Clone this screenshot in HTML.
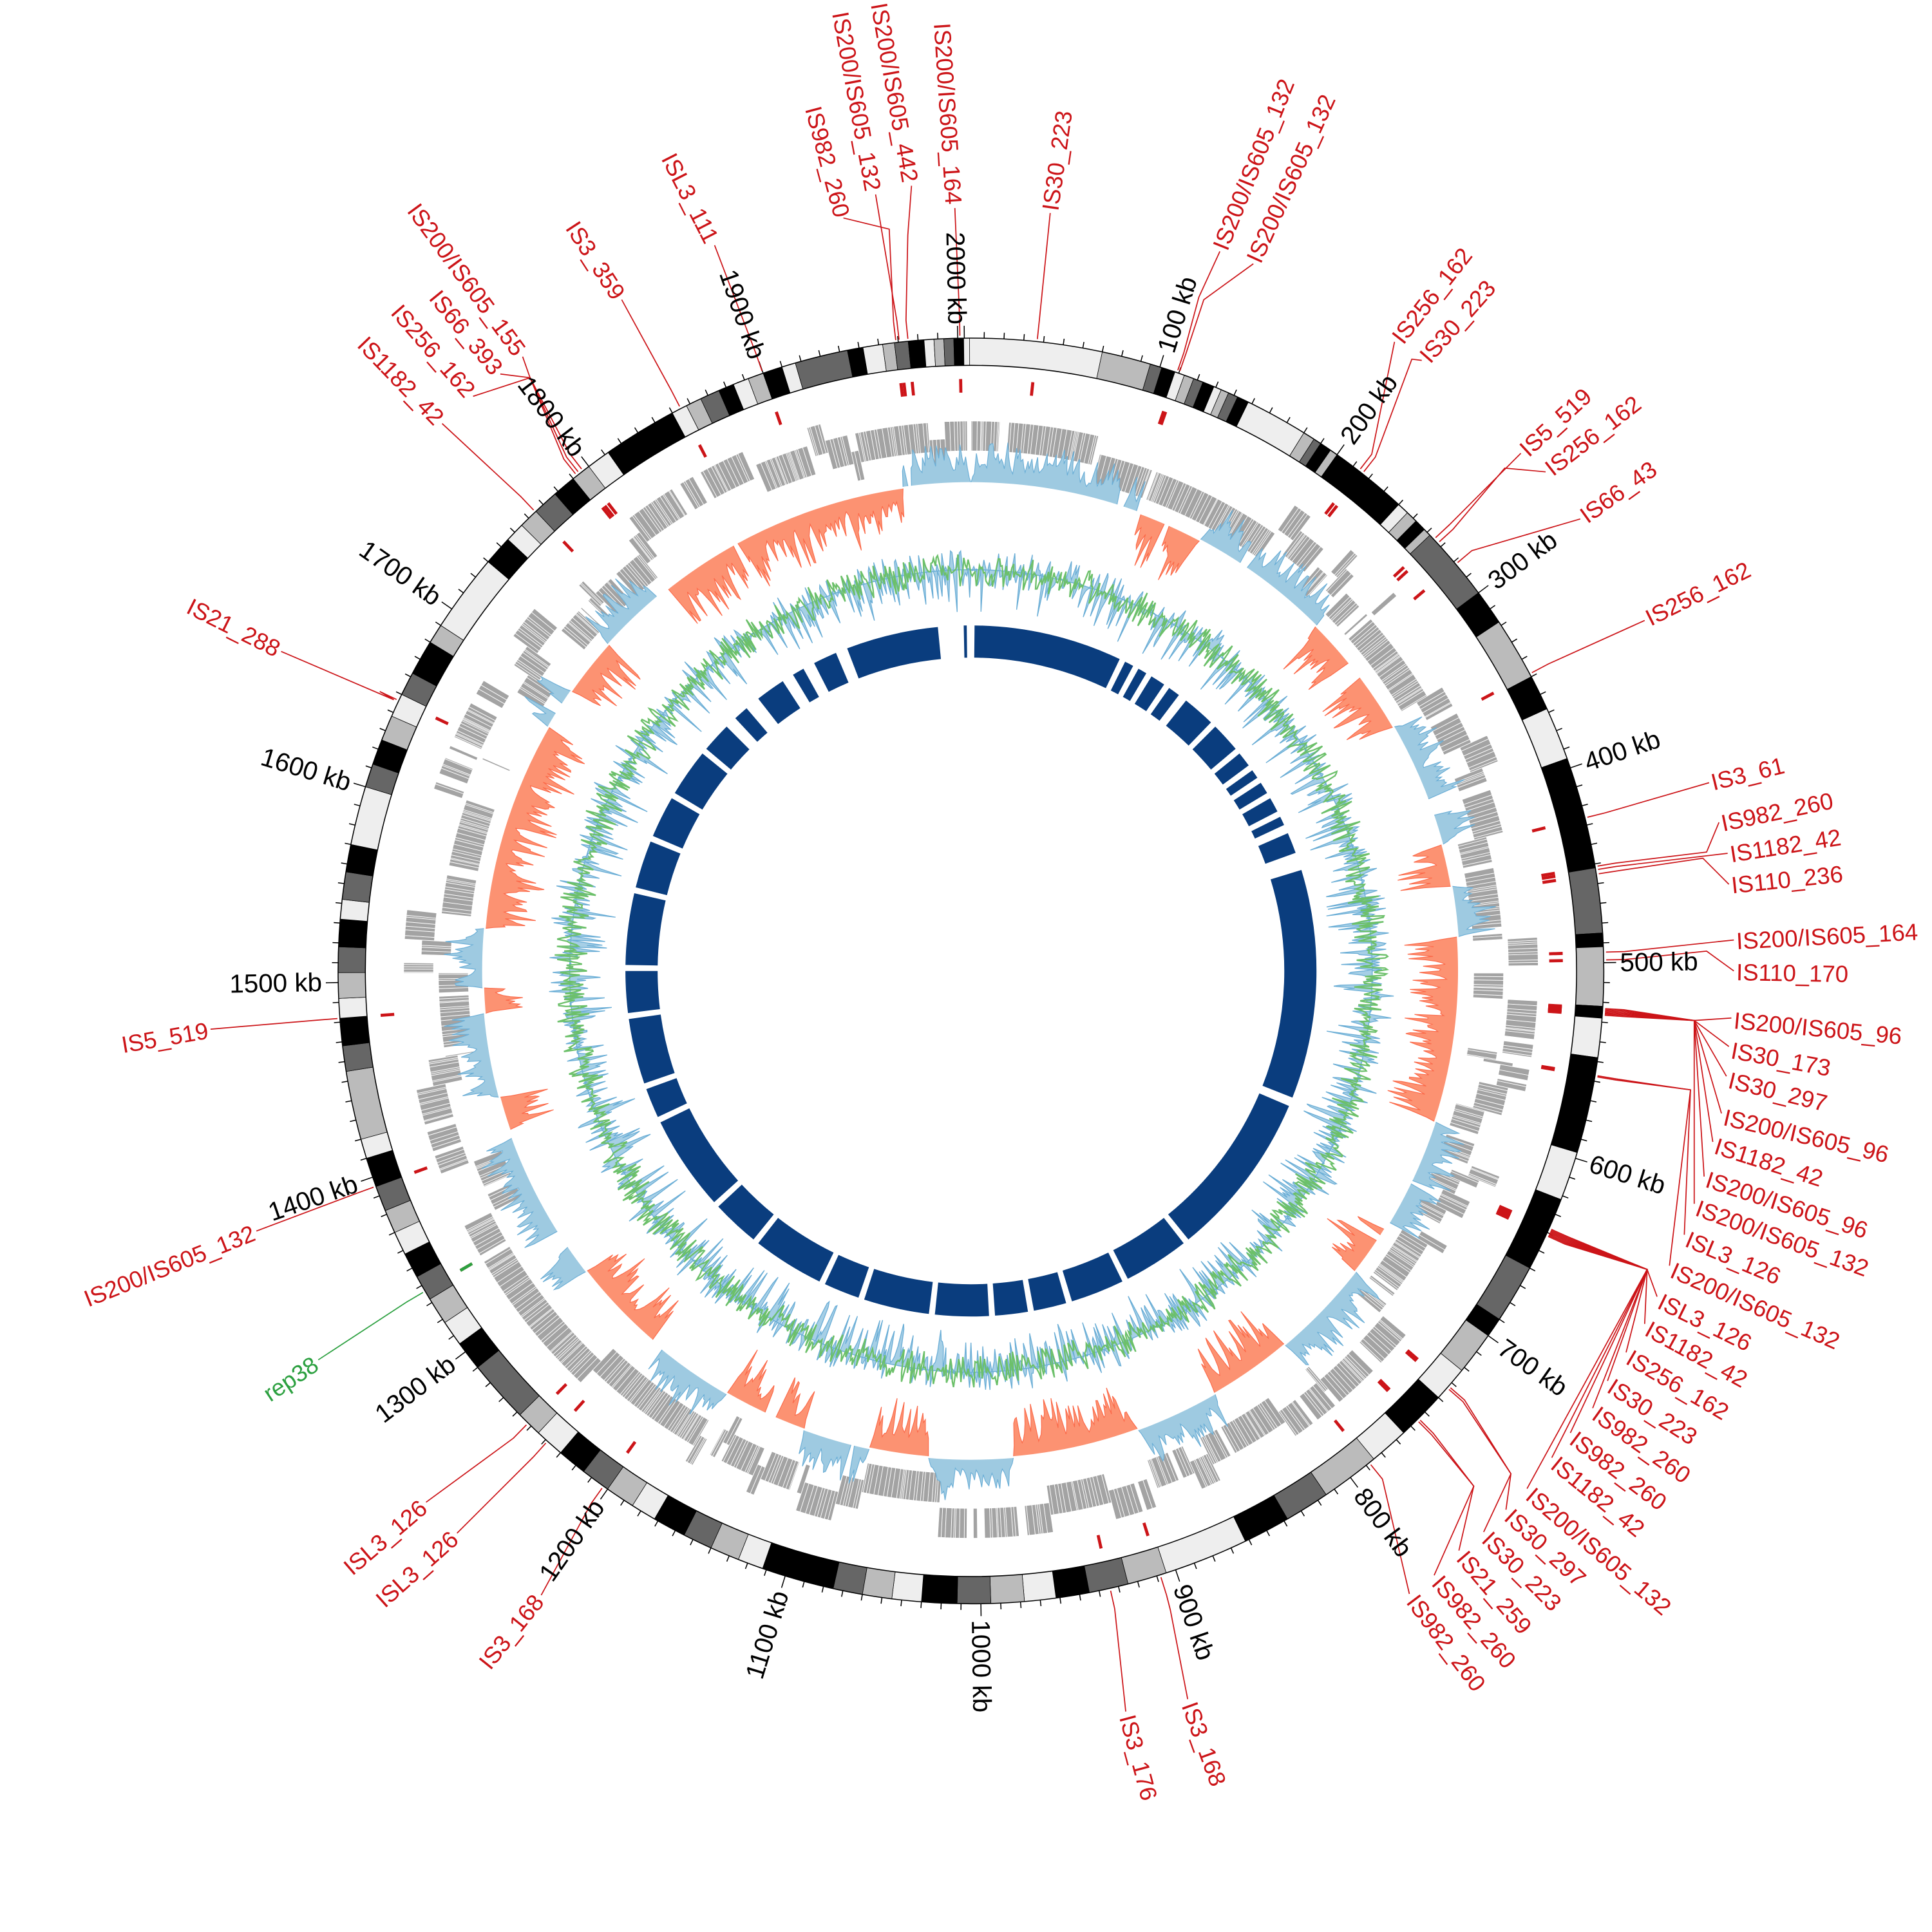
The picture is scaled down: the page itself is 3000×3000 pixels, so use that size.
<!DOCTYPE html>
<html><head><meta charset="utf-8">
<style>
html,body{margin:0;padding:0;background:#fff;}
svg{display:block;}
.l{font-family:"Liberation Sans",sans-serif;font-size:19px;fill:#cc1418;}
.g{font-family:"Liberation Sans",sans-serif;font-size:19px;fill:#2ca040;}
.k{font-family:"Liberation Sans",sans-serif;font-size:21px;fill:#000;}
</style></head>
<body>
<svg id="s" width="3000" height="3000" viewBox="0 0 1560 1560" xmlns="http://www.w3.org/2000/svg">
<rect width="1560" height="1560" fill="#fff"/>
<g id="bands"></g>
<g id="ticks" stroke="#000" stroke-width="0.8"></g>
<g id="genes"></g>
<g id="skew"></g>
<g id="gc"></g>
<g id="navy" fill="#0a3d7e"></g>
<g id="marks" fill="#cc1418"></g>
<g id="leaders" fill="none" stroke="#cc1418" stroke-width="0.9"></g>
<g dominant-baseline="central">
<text class="k" transform="translate(941,284) rotate(-72.6)">100 kb</text>
<text class="k" transform="translate(1087,356) rotate(-54.7)">200 kb</text>
<text class="k" transform="translate(1204,471) rotate(-36.7)">300 kb</text>
<text class="k" transform="translate(1280,616) rotate(-18.7)">400 kb</text>
<text class="k" transform="translate(1308,777) rotate(-0.75)">500 kb</text>
<text class="k" transform="translate(1284,939) rotate(17.2)">600 kb</text>
<text class="k" transform="translate(1212,1086) rotate(35.2)">700 kb</text>
<text class="k" transform="translate(1098,1204) rotate(53.2)">800 kb</text>
<text class="k" transform="translate(954,1280) rotate(71.1)">900 kb</text>
<text class="k" transform="translate(792,1308) rotate(89.1)">1000 kb</text>
<text class="k" text-anchor="end" transform="translate(630,1285) rotate(-72.9)">1100 kb</text>
<text class="k" text-anchor="end" transform="translate(483,1213) rotate(-55)">1200 kb</text>
<text class="k" text-anchor="end" transform="translate(365,1099) rotate(-37)">1300 kb</text>
<text class="k" text-anchor="end" transform="translate(288,955) rotate(-19)">1400 kb</text>
<text class="k" text-anchor="end" transform="translate(260,793) rotate(-1)">1500 kb</text>
<text class="k" text-anchor="end" transform="translate(283,632) rotate(16.9)">1600 kb</text>
<text class="k" text-anchor="end" transform="translate(354,484) rotate(34.9)">1700 kb</text>
<text class="k" text-anchor="end" transform="translate(468,366) rotate(52.9)">1800 kb</text>
<text class="k" text-anchor="end" transform="translate(612,289) rotate(70.8)">1900 kb</text>
<text class="k" text-anchor="end" transform="translate(773,262) rotate(88.8)">2000 kb</text>

<text class="l" transform="translate(848,170) rotate(-82)">IS30_223</text>
<text class="l" transform="translate(985,201) rotate(-68.2)">IS200/IS605_132</text>
<text class="l" transform="translate(1012,211) rotate(-65.5)">IS200/IS605_132</text>
<text class="l" transform="translate(910,1385) rotate(75)">IS3_176</text>
<text class="l" transform="translate(960,1375) rotate(70)">IS3_168</text>
<text class="l" transform="translate(1140,1290) rotate(53)">IS982_260</text>
<text class="l" transform="translate(1160,1275) rotate(49)">IS982_260</text>
<text class="l" transform="translate(1180,1255) rotate(49.4)">IS21_259</text>
<text class="l" transform="translate(1200,1240) rotate(45)">IS30_223</text>
<text class="l" transform="translate(1218,1222) rotate(43)">IS30_297</text>
<text class="l" transform="translate(1235,1205) rotate(40.5)">IS200/IS605_132</text>
<text class="l" transform="translate(1255,1180) rotate(39)">IS1182_42</text>
<text class="l" transform="translate(1270,1160) rotate(37)">IS982_260</text>
<text class="l" transform="translate(1288,1140) rotate(35.5)">IS982_260</text>
<text class="l" transform="translate(1300,1118) rotate(32.7)">IS30_223</text>
<text class="l" transform="translate(1315,1095) rotate(30.5)">IS256_162</text>
<text class="l" transform="translate(1330,1072) rotate(28.6)">IS1182_42</text>
<text class="l" transform="translate(1340,1050) rotate(26)">ISL3_126</text>
<text class="l" transform="translate(1350,1025) rotate(23.7)">IS200/IS605_132</text>
<text class="l" transform="translate(1362,1000) rotate(22.9)">ISL3_126</text>
<text class="l" transform="translate(1370,975) rotate(19.9)">IS200/IS605_132</text>
<text class="l" transform="translate(1378,952) rotate(18)">IS200/IS605_96</text>
<text class="l" transform="translate(1385,925) rotate(17.5)">IS1182_42</text>
<text class="l" transform="translate(1392,902) rotate(13)">IS200/IS605_96</text>
<text class="l" transform="translate(1396,872) rotate(13.7)">IS30_297</text>
<text class="l" transform="translate(1398,848) rotate(10.4)">IS30_173</text>
<text class="l" transform="translate(1400,824) rotate(5.4)">IS200/IS605_96</text>
<text class="l" transform="translate(1402,760) rotate(-3)">IS200/IS605_164</text>
<text class="l" transform="translate(1402,785) rotate(1)">IS110_170</text>
<text class="l" transform="translate(1398,715) rotate(-6)">IS110_236</text>
<text class="l" transform="translate(1397,690) rotate(-9)">IS1182_42</text>
<text class="l" transform="translate(1390,665) rotate(-11.8)">IS982_260</text>
<text class="l" transform="translate(1382,632) rotate(-13.8)">IS3_61</text>
<text class="l" transform="translate(1330,500) rotate(-26.6)">IS256_162</text>
<text class="l" transform="translate(1278,418) rotate(-35.6)">IS66_43</text>
<text class="l" transform="translate(1250,380) rotate(-37.8)">IS256_162</text>
<text class="l" transform="translate(1230,365) rotate(-42.6)">IS5_519</text>
<text class="l" transform="translate(1150,290) rotate(-48.5)">IS30_223</text>
<text class="l" transform="translate(1128,275) rotate(-52)">IS256_162</text>

<text class="l" text-anchor="end" transform="translate(770,165) rotate(86.3)">IS200/IS605_164</text>
<text class="l" text-anchor="end" transform="translate(735,147) rotate(80)">IS200/IS605_442</text>
<text class="l" text-anchor="end" transform="translate(705,154) rotate(79.5)">IS200/IS605_132</text>
<text class="l" text-anchor="end" transform="translate(680,175) rotate(75)">IS982_260</text>
<text class="l" text-anchor="end" transform="translate(575,195) rotate(63)">ISL3_111</text>
<text class="l" text-anchor="end" transform="translate(500,240) rotate(57)">IS3_359</text>
<text class="l" text-anchor="end" transform="translate(420,285) rotate(53.8)">IS200/IS605_155</text>
<text class="l" text-anchor="end" transform="translate(402,300) rotate(50.8)">IS66_393</text>
<text class="l" text-anchor="end" transform="translate(380,318) rotate(48.9)">IS256_162</text>
<text class="l" text-anchor="end" transform="translate(355,340) rotate(46)">IS1182_42</text>
<text class="l" text-anchor="end" transform="translate(225,525) rotate(26.6)">IS21_288</text>
<text class="l" text-anchor="end" transform="translate(168,832) rotate(-9.7)">IS5_519</text>
<text class="l" text-anchor="end" transform="translate(205,995) rotate(-21.8)">IS200/IS605_132</text>
<text class="g" text-anchor="end" transform="translate(255,1100) rotate(-33.7)">rep38</text>
<text class="l" text-anchor="end" transform="translate(342,1215) rotate(-40.6)">ISL3_126</text>
<text class="l" text-anchor="end" transform="translate(367,1240) rotate(-41.8)">ISL3_126</text>
<text class="l" text-anchor="end" transform="translate(435,1290) rotate(-51.3)">IS3_168</text>
</g>
</svg>
<script>
(function(){
var cx=784,cy=784;
function P(r,t){var a=t*Math.PI/180;return [(cx+r*Math.sin(a)).toFixed(2),(cy-r*Math.cos(a)).toFixed(2)];}
function ps(p){return p[0]+','+p[1];}
function kt(k){return k*0.1797-0.6;}
function sector(r1,r2,t1,t2){var lg=(t2-t1)>180?1:0;
 return 'M'+ps(P(r2,t1))+'A'+r2+','+r2+' 0 '+lg+' 1 '+ps(P(r2,t2))+'L'+ps(P(r1,t2))+'A'+r1+','+r1+' 0 '+lg+' 0 '+ps(P(r1,t1))+'Z';}
var s=12345;function rnd(){s=(s*1664525+1013904223)%4294967296;return s/4294967296;}
var L='#eeeeee',G='#bbbbbb',D='#666666',B='#000000';
var bands=[[0,70,L],[70,95,G],[95,101,D],[101,108,B],[108,113,L],[113,118,G],[118,123,D],[123,129,B],[129,133,L],[133,137,G],[137,142,D],[142,148,B],[148,180,L],[180,186,G],[186,190,D],[190,196,B],[196,200,G],[200,240,B],[240,246,L],[246,252,G],[252,258,B],[258,262,G],[262,300,D],[300,318,B],[318,350,G],[350,368,B],[368,395,L],[395,452,B],[452,485,D],[485,492,B],[492,522,G],[522,528,B],[528,548,L],[548,597,B],[597,622,L],[622,660,B],[660,690,D],[690,700,B],[700,722,G],[722,740,L],[740,765,B],[765,785,L],[785,815,G],[815,838,D],[838,862,B],[862,905,L],[905,925,G],[925,945,D],[945,962,B],[962,978,L],[978,995,G],[995,1012,D],[1012,1030,B],[1030,1045,L],[1045,1060,G],[1060,1075,D],[1075,1112,B],[1112,1125,L],[1125,1140,G],[1140,1155,D],[1155,1172,B],[1172,1185,L],[1185,1200,G],[1200,1215,D],[1215,1230,B],[1230,1245,L],[1245,1258,G],[1258,1290,D],[1290,1305,B],[1305,1318,L],[1318,1332,G],[1332,1345,D],[1345,1358,B],[1358,1370,L],[1370,1382,G],[1382,1395,D],[1395,1410,B],[1410,1420,L],[1420,1455,G],[1455,1468,D],[1468,1482,B],[1482,1492,L],[1492,1505,G],[1505,1518,D],[1518,1532,B],[1532,1542,L],[1542,1556,D],[1556,1570,B],[1570,1600,L],[1600,1612,D],[1612,1625,B],[1625,1638,G],[1638,1650,L],[1650,1662,D],[1662,1680,B],[1680,1690,G],[1690,1730,L],[1730,1745,B],[1745,1755,L],[1755,1765,G],[1765,1778,D],[1778,1790,B],[1790,1800,G],[1800,1812,L],[1812,1850,B],[1850,1858,L],[1858,1866,G],[1866,1876,D],[1876,1884,B],[1884,1892,L],[1892,1900,G],[1900,1910,B],[1910,1917,L],[1917,1944,D],[1944,1952,B],[1952,1962,L],[1962,1968,G],[1968,1975,D],[1975,1983,B],[1983,1988,L],[1988,1993,G],[1993,1998,D],[1998,2003,B],[2003,2006,L]];
var h='';
bands.forEach(function(b){h+='<path d="'+sector(489,511,kt(b[0]),kt(b[1]))+'" fill="'+b[2]+'" stroke="#000" stroke-width="0.4"/>';});
h+='<circle cx="'+cx+'" cy="'+cy+'" r="511" fill="none" stroke="#000" stroke-width="0.8"/><circle cx="'+cx+'" cy="'+cy+'" r="489" fill="none" stroke="#000" stroke-width="0.8"/>';
document.getElementById('bands').innerHTML=h;
h='';
for(var k=0;k<=2000;k+=10){var t=kt(k);var len=(k%100==0)?10:5;var a=P(511,t),b=P(511+len,t);h+='<line x1="'+a[0]+'" y1="'+a[1]+'" x2="'+b[0]+'" y2="'+b[1]+'"/>';}
document.getElementById('ticks').innerHTML=h;
h='';var t=0,row=0;
var rows=[[434,458],[406,430],[420,444]];
while(t<359.5){var w=0.08+rnd()*0.5;if(rnd()<0.07)row=(row+1+Math.floor(rnd()*2))%3;
 if(rnd()<0.04){t+=0.3+rnd()*0.8;continue;}
 var e=Math.min(t+w,359.6);var rr=rows[row];
 h+='<path d="'+sector(rr[0],rr[1],t,e)+'" fill="#a3a3a3" stroke="#fff" stroke-width="0.35"/>';t=e+0.02;}
document.getElementById('genes').innerHTML=h;
var regs=[[0,20,1],[20,28,-1],[28,45,1],[45,60,-1],[60,75,1],[75,80,-1],[80,86,1],[86,108,-1],[108,122,1],[122,128,-1],[128,140,1],[140,150,-1],[150,160,1],[160,175,-1],[175,185,1],[185,192,-1],[192,200,1],[200,210,-1],[210,220,1],[220,232,-1],[232,250,1],[250,255,-1],[255,265,1],[265,268,-1],[268,275,1],[275,300,-1],[300,305,1],[305,312,-1],[312,320,1],[320,352,-1],[352,360,1]];
function regAt(th){for(var i=0;i<regs.length;i++){if(th>=regs[i][0]&&th<regs[i][1])return regs[i];}return regs[0];}
var N=1800,base=394,pos=[],neg=[],spk=0,gap=0;
for(var i=0;i<N;i++){var th=i*360/N;var rg=regAt(th);var env=Math.max(0,Math.min(1,(th-rg[0])/0.5,(rg[1]-th)/0.5));
 spk=Math.max(Math.pow(rnd(),1.8),spk*0.6);
 if(gap>0){gap--;env=0;}else if(rnd()<0.01){gap=3+Math.floor(rnd()*10);}
 var v=rg[2]*(rg[2]>0?34:44)*(0.15+0.85*spk)*env;
 pos.push(base+Math.max(v,0));neg.push(base+Math.min(v,0));}
function ringPath(arr,b){var d='M';for(var i=0;i<arr.length;i++){d+=(i?'L':'')+ps(P(arr[i],i*360/arr.length));}d+='Z M';
 for(var i=arr.length;i>=0;i--){d+=(i<arr.length?'L':'')+ps(P(b,i*360/arr.length));}return d+'Z';}
h='<path d="'+ringPath(pos,base)+'" fill="#9ecae1" stroke="#6baed6" stroke-width="0.6" fill-rule="evenodd"/>';
h+='<path d="'+ringPath(neg,base)+'" fill="#fc9272" stroke="#fb6a4a" stroke-width="0.6" fill-rule="evenodd"/>';
h+='<circle cx="'+cx+'" cy="'+cy+'" r="'+base+'" fill="none" stroke="#fff" stroke-width="1.4"/>';
document.getElementById('skew').innerHTML=h;
var gb=324,bp=[],bn=[],gl=[];spk=0;var sp2=0;
for(var i=0;i<N;i++){spk=Math.max(Math.pow(rnd(),2.6),spk*0.45);sp2=Math.max(Math.pow(rnd(),2.0),sp2*0.45);
 var v=(rnd()<0.6?-1:1);var amp=v<0?34:18;var val=v*amp*spk;
 bp.push(gb+Math.max(val,0));bn.push(gb+Math.min(val,0));
 gl.push(gb-1+(rnd()<0.5?-1:1)*14*sp2);}
h='<path d="'+ringPath(bp,gb)+'" fill="#a6cfe6" stroke="#6baed6" stroke-width="0.7" fill-rule="evenodd"/>';
h+='<path d="'+ringPath(bn,gb)+'" fill="#a6cfe6" stroke="#6baed6" stroke-width="0.7" fill-rule="evenodd"/>';
var d='M';for(var i=0;i<gl.length;i++){d+=(i?'L':'')+ps(P(gl[i],i*360/gl.length));}d+='Z';
h+='<path d="'+d+'" fill="none" stroke="#6cc06a" stroke-width="1.2"/>';
document.getElementById('gc').innerHTML=h;
var nv=[[0.6,25.5],[26.5,28],[29,30.5],[31.5,34],[35,37],[38.5,44],[45,50],[51,53.5],[54.5,56],[57,59],[60,62.5],[63.5,65],[66.5,70],[73,111.5],[113,141],[142,153],[154,163],[164,169.5],[170.5,176],[177,186],[187,198],[199,205],[206,218],[219,227],[228,244],[245,250],[251,262],[263,270],[271,283],[284,292],[293,300],[301,309],[310,315],[317,319.5],[322,327],[329,331],[333,337],[339,354.5],[358.8,359.3]];
h='';nv.forEach(function(b){h+='<path d="'+sector(253,279,b[0],b[1])+'"/>';});
document.getElementById('navy').innerHTML=h;
var Ld=[[6.0,null,[848,172]],[19.0,[968,240],[985,203]],[19.2,[972,242],[1012,213]],[359,null,[771,168]],[354.3,[733,190],[736,150]],[353.5,null,[707,157]],[353.2,[718,185],[681,176]],[340.8,null,[577,198]],[332.7,null,[502,242]],[322.2,[428,305],[422,288]],[321.8,[428,305],[404,302]],[321.5,[428,305],[382,320]],[316.5,null,[357,342]],[295.3,[318,565],[227,526]],[265.7,null,[170,831]],[250.1,null,[207,994]],[239.6,null,[257,1098]],[224.4,null,[344,1213]],[222,null,[369,1238]],[215.5,null,[437,1288]],[167.3,null,[909,1382]],[162.6,[945,1300],[959,1372]],[141,null,[1138,1287]],[135,[1190,1200],[1158,1272]],[135.2,[1190,1200],[1178,1252]],[131,[1220,1190],[1198,1237]],[131.2,[1220,1190],[1216,1219]],[114,[1330,1025],[1233,1202]],[114.1,[1330,1025],[1253,1177]],[114.2,[1330,1025],[1268,1157]],[114.3,[1330,1025],[1286,1137]],[114.4,[1330,1025],[1298,1115]],[114.5,[1330,1025],[1313,1092]],[114.6,[1330,1025],[1328,1069]],[114.7,[1330,1025],[1338,1047]],[99.5,[1365,880],[1348,1022]],[99.6,[1365,880],[1360,997]],[93.4,[1368,824],[1368,972]],[93.5,[1368,824],[1376,950]],[93.6,[1368,824],[1383,922]],[93.7,[1368,824],[1390,899]],[93.8,[1368,824],[1394,869]],[93.9,[1368,824],[1396,845]],[94.0,[1368,824],[1398,822]],[88.3,null,[1400,759]],[89.0,[1378,768],[1400,784]],[81.2,[1375,693],[1396,714]],[80.8,null,[1395,689]],[80.5,[1378,688],[1388,664]],[76.0,null,[1380,632]],[62,null,[1328,501]],[50,null,[1276,419]],[47.5,[1215,378],[1248,381]],[47.0,null,[1228,366]],[38.2,[1140,290],[1148,291]],[37.8,null,[1126,276]]];
h='';var m='';
Ld.forEach(function(q){var a=P(513,q[0]),b=P(528,q[0]);var pts=ps(a)+' '+ps(b);if(q[1])pts+=' '+q[1][0]+','+q[1][1];pts+=' '+q[2][0]+','+q[2][1];
 h+='<polyline points="'+pts+'"/>';m+='<path d="'+sector(467,478,q[0]-0.15,q[0]+0.15)+'"/>';});
document.getElementById('leaders').innerHTML=h;
document.getElementById('marks').innerHTML=m+'<path d="'+sector(467,478,239.45,239.75)+'" fill="#2ca040"/>';
var pl=document.getElementById('leaders').children[16];pl.setAttribute('stroke','#2ca040');
})();
</script>
</body></html>
